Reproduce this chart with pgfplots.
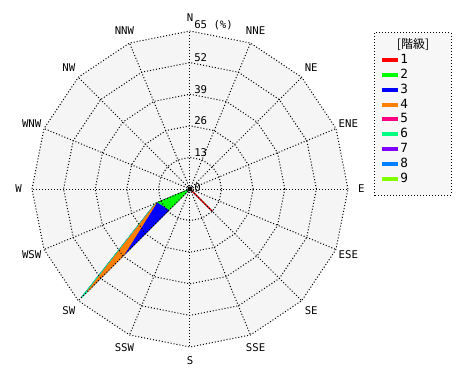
\documentclass[border=0pt]{standalone}
\usepackage{fontspec}
\setmainfont{DejaVu Sans Mono}
\newfontfamily\cjk{Noto Sans CJK JP}
\usepackage{pgfplots}
\usepackage{pgfplotstable}
\usepgfplotslibrary{polar}
\pgfplotsset{compat=1.18}
\definecolor{c1}{HTML}{FF0000}
\definecolor{c2}{HTML}{00FF00}
\definecolor{c3}{HTML}{0000FF}
\definecolor{c4}{HTML}{FF8000}
\definecolor{c5}{HTML}{FF0080}
\definecolor{c6}{HTML}{00FF80}
\definecolor{c7}{HTML}{8000FF}
\definecolor{c8}{HTML}{0080FF}
\definecolor{c9}{HTML}{80FF00}
\definecolor{bg}{HTML}{F5F5F5}
\definecolor{legbg}{HTML}{F7F7F7}
% cumulative radius (%) of each class, by direction (angle: math degrees)
\pgfplotstableread{
dir ang c1 c2 c3 c4 c5 c6 c7 c8 c9
N 90 0 0 0 0 0 0 0 0 0
NNE 67.5 0 0 0 0 0 0 0 0 0
NE 45 0 0 0 0 0 0 0 0 0
ENE 22.5 0 0 0 0 0 0 0 0 0
E 0 0 0 0 0 0 0 0 0 0
ESE -22.5 0 0 0 0 0 0 0 0 0
SE -45 13 13 13 13 13 13 13 13 13
SSE -67.5 0 0 0 0 0 0 0 0 0
S -90 0 0 0 0 0 0 0 0 0
SSW -112.5 0 0 0 0 0 0 0 0 0
SW -135 0 12 37 59.6 59.6 63.4 63.4 63.4 63.4
WSW -157.5 0 14.3 14.3 14.8 14.8 15.3 15.3 15.3 15.3
W -180 0 0 0 0 0 0 0 0 0
WNW -202.5 0 0 0 0 0 0 0 0 0
NW -225 0 0 0 0 0 0 0 0 0
NNW -247.5 0 0 0 0 0 0 0 0 0
}\rose
\tikzset{gridline/.style={black, line width=0.75pt, dash pattern=on 0.75pt off 1.5pt}}
\begin{document}
\begin{tikzpicture}
\useasboundingbox (-142.5pt,-143.25pt) rectangle (210pt,141.75pt);
\begin{polaraxis}[
  at={(0pt,0pt)}, anchor=center,
  width=237pt, height=237pt, scale only axis,
  ymin=0, ymax=65,
  hide axis, clip=false,
  font=\fontsize{8}{9}\selectfont,
  legend image code/.code={\draw[line width=3pt, solid] (0pt,0pt) -- (12pt,0pt);},
  legend style={at={(axis description cs:1.1013,0.923)}, anchor=north west,
    draw=none, fill=none, inner sep=0pt, row sep=4.1pt,
    nodes={inner sep=0pt, text height=6pt, text depth=1pt},
    font=\fontsize{9.5}{10}\selectfont},
  legend cell align=left,
  /tikz/every even column/.append style={column sep=4pt},
]
% legend box
\draw[gridline, fill=legbg] (axis description cs:1.0854,0.9937) rectangle (axis description cs:1.326,0.481);
\node[font=\cjk\fontsize{9}{10}\selectfont] at (axis description cs:1.2057,0.9589) {[階級]};
\addlegendimage{draw=c1}\addlegendentry{1}
\addlegendimage{draw=c2}\addlegendentry{2}
\addlegendimage{draw=c3}\addlegendentry{3}
\addlegendimage{draw=c4}\addlegendentry{4}
\addlegendimage{draw=c5}\addlegendentry{5}
\addlegendimage{draw=c6}\addlegendentry{6}
\addlegendimage{draw=c7}\addlegendentry{7}
\addlegendimage{draw=c8}\addlegendentry{8}
\addlegendimage{draw=c9}\addlegendentry{9}
% background
\addplot[forget plot, fill=bg, draw=none] coordinates {(0,65)(22.5,65)(45,65)(67.5,65)(90,65)(112.5,65)(135,65)(157.5,65)(180,65)(202.5,65)(225,65)(247.5,65)(270,65)(292.5,65)(315,65)(337.5,65)} -- cycle;
% data polygons, outer classes first
\addplot[forget plot, fill=c9, draw=c9, line width=0.5pt] table[x=ang, y=c9] {\rose} -- cycle;
\addplot[forget plot, fill=c8, draw=c8, line width=0.5pt] table[x=ang, y=c8] {\rose} -- cycle;
\addplot[forget plot, fill=c7, draw=c7, line width=0.5pt] table[x=ang, y=c7] {\rose} -- cycle;
\addplot[forget plot, fill=c6, draw=c6, line width=0.5pt] table[x=ang, y=c6] {\rose} -- cycle;
\addplot[forget plot, fill=c5, draw=c5, line width=0.5pt] table[x=ang, y=c5] {\rose} -- cycle;
\addplot[forget plot, fill=c4, draw=c4, line width=0.5pt] table[x=ang, y=c4] {\rose} -- cycle;
\addplot[forget plot, fill=c3, draw=c3, line width=0.5pt] table[x=ang, y=c3] {\rose} -- cycle;
\addplot[forget plot, fill=c2, draw=c2, line width=0.5pt] table[x=ang, y=c2] {\rose} -- cycle;
\addplot[forget plot, fill=c1, draw=c1, line width=1pt] table[x=ang, y=c1] {\rose} -- cycle;
% grid rings
\pgfplotsinvokeforeach{13,26,39,52,65}{
\addplot[forget plot, gridline] coordinates {(0,#1)(22.5,#1)(45,#1)(67.5,#1)(90,#1)(112.5,#1)(135,#1)(157.5,#1)(180,#1)(202.5,#1)(225,#1)(247.5,#1)(270,#1)(292.5,#1)(315,#1)(337.5,#1)(360,#1)};
}
% spokes
\pgfplotsinvokeforeach{0,22.5,45,67.5,90,112.5,135,157.5,180,202.5,225,247.5,270,292.5,315,337.5}{
\addplot[forget plot, gridline] coordinates {(#1,0)(#1,65)};
}
\addplot[forget plot, only marks, mark=*, mark size=1.6pt, black] coordinates {(0,0)};
% ring labels
\node[anchor=south west, inner sep=0.5pt, xshift=2.5pt] at (axis cs:90,13) {13};
\node[anchor=south west, inner sep=0.5pt, xshift=2.5pt] at (axis cs:90,26) {26};
\node[anchor=south west, inner sep=0.5pt, xshift=2.5pt] at (axis cs:90,39) {39};
\node[anchor=south west, inner sep=0.5pt, xshift=2.5pt] at (axis cs:90,52) {52};
\node[anchor=south west, inner sep=0.5pt, xshift=2.5pt] at (axis cs:90,65) {65 (\%)};
\node[anchor=west, inner sep=0.5pt, xshift=2.5pt, yshift=1pt] at (axis cs:0,0) {0};
% direction labels
\node at (axis cs:90,70.5) {N};
\node at (axis cs:67.5,70.5) {NNE};
\node at (axis cs:45,70.5) {NE};
\node at (axis cs:22.5,70.5) {ENE};
\node at (axis cs:0,70.5) {E};
\node at (axis cs:-22.5,70.5) {ESE};
\node at (axis cs:-45,70.5) {SE};
\node at (axis cs:-67.5,70.5) {SSE};
\node at (axis cs:-90,70.5) {S};
\node at (axis cs:-112.5,70.5) {SSW};
\node at (axis cs:-135,70.5) {SW};
\node at (axis cs:-157.5,70.5) {WSW};
\node at (axis cs:180,70.5) {W};
\node at (axis cs:157.5,70.5) {WNW};
\node at (axis cs:135,70.5) {NW};
\node at (axis cs:112.5,70.5) {NNW};
\end{polaraxis}
\end{tikzpicture}
\end{document}
